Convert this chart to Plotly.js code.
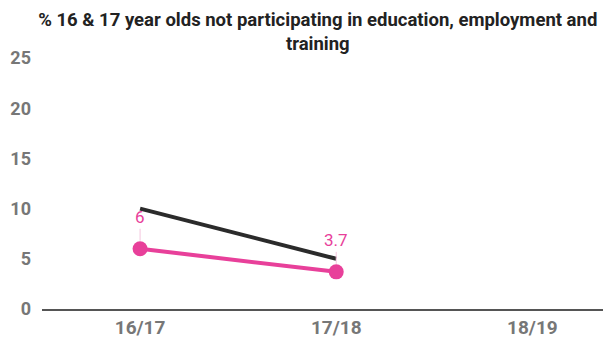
<!DOCTYPE html>
<html>
<head>
<meta charset="utf-8">
<script src="https://cdn.plot.ly/plotly-3.0.1.min.js"></script>
<style>html,body{margin:0;padding:0;background:#fff;}#chart{width:603px;height:338px;}</style>
</head>
<body>
<div id="chart"></div>
<script>
const categories = ["16/17", "17/18", "18/19"];
const comparisonValues = [10, 5, null];
const localValues = [6, 3.7, null];
const localLabels = ["6", "3.7", ""];
const yTicks = [0, 5, 10, 15, 20, 25];
const titleText = "% 16 & 17 year olds not participating in education, employment and<br>training";

const pink = "#e8409a";

const traces = [
  {
    x: categories, y: comparisonValues, type: "scatter", mode: "lines",
    line: {color: "#2b2b2b", width: 4}, hoverinfo: "skip", showlegend: false
  },
  {
    x: categories, y: localValues, type: "scatter", mode: "lines+markers",
    line: {color: pink, width: 4}, marker: {color: pink, size: 15},
    hoverinfo: "skip", showlegend: false
  }
];

const annotations = [];
categories.forEach((c, i) => {
  if (localValues[i] !== null) {
    annotations.push({
      x: c, y: localValues[i], xref: "x", yref: "y",
      text: localLabels[i], showarrow: true, arrowhead: 0, arrowwidth: 1,
      arrowcolor: "#f4c6de", ax: 0, ay: -20, standoff: 8,
      yanchor: "bottom",
      font: {family: "Roboto", size: 17, color: pink}
    });
  }
});

const layout = {
  width: 603, height: 338,
  margin: {l: 42, r: 0, t: 58, b: 29},
  paper_bgcolor: "#fff", plot_bgcolor: "#fff",
  font: {family: "Roboto", color: "#777"},
  title: {
    text: "<b>" + titleText + "</b>",
    font: {family: "Roboto", size: 18.5, color: "#222"},
    x: 0.527, xanchor: "center", y: 0.924, yanchor: "top"
  },
  xaxis: {
    type: "category", range: [-0.5, 2.36],
    showgrid: false, zeroline: false,
    showline: true, linecolor: "#555", linewidth: 1.5,
    ticks: "", tickfont: {family: "Roboto", size: 19, color: "#777", weight: "bold"},
    ticklabelstandoff: 1
  },
  yaxis: {
    range: [0, 25], tickvals: yTicks, ticktext: yTicks.map(String),
    showgrid: false, zeroline: false, showline: false,
    ticks: "", tickfont: {family: "Roboto", size: 18, color: "#777", weight: "bold"},
    ticklabelstandoff: 10
  },
  annotations: annotations
};

Plotly.newPlot("chart", traces, layout, {staticPlot: true, displayModeBar: false});
</script>
</body>
</html>
